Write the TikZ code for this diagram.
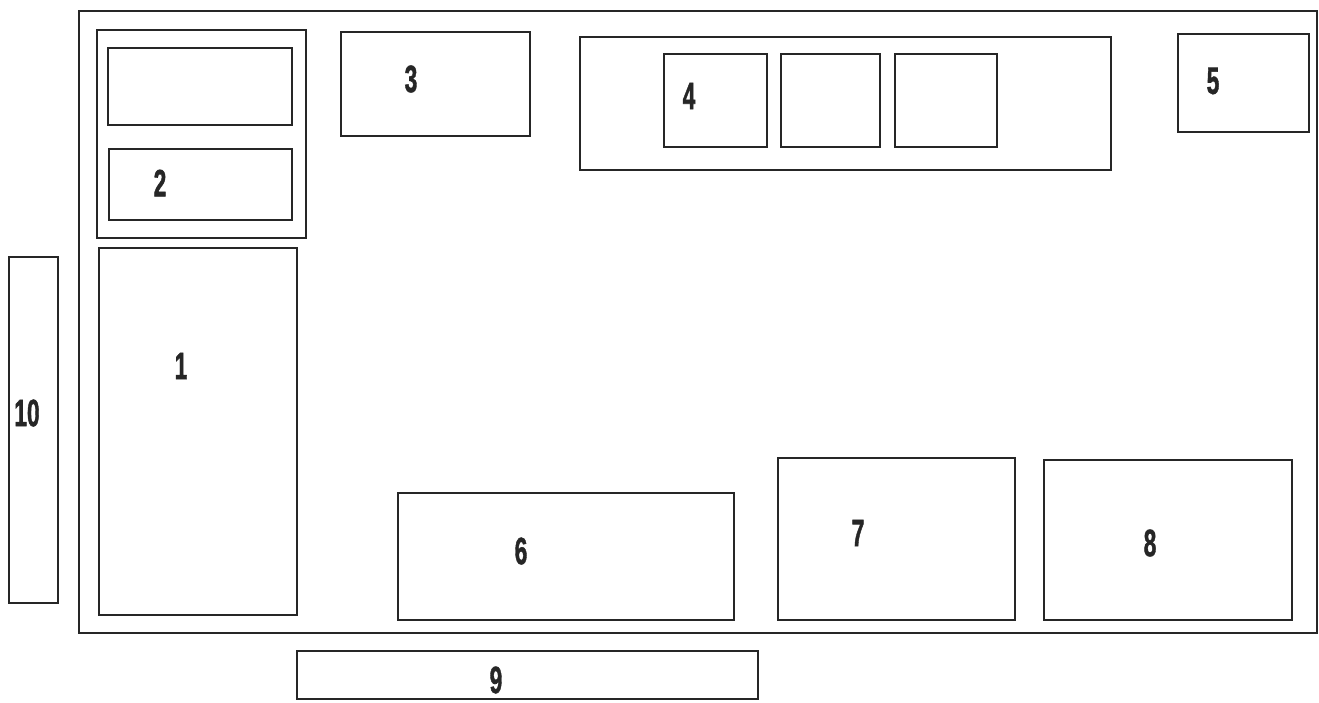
\documentclass[tikz,border=0pt]{standalone}
\usepackage{fontspec}
\newfontfamily\lblfont[FakeBold=1.6]{Liberation Sans Bold}
\begin{document}
\begin{tikzpicture}[x=1pt,y=-1pt,
  part/.style={draw=black!85, line width=2.8pt},
  lbl/.style={font=\lblfont\fontsize{38}{38}\selectfont, xscale=0.6, text=black!85, inner sep=0pt}]
\useasboundingbox (0,0) rectangle (1319,702);
\clip (0,0) rectangle (1319,702);
\fill[white] (0,0) rectangle (1319,702);
% outer frame
\draw[part] (79,11) rectangle (1317,633);
% group 2
\draw[part] (97,30) rectangle (306,238);
\draw[part] (108,48) rectangle (292,125);
\draw[part] (109,149) rectangle (292,220);
\node[lbl] (l2) at (160,183) {2};
% box 1
\draw[part] (99,248) rectangle (297,615);
\node[lbl] (l1) at (181,366) {1};
% box 10
\draw[part] (9,257) rectangle (58,603);
\node[lbl] (l10) at (27,413) {10};
% box 3
\draw[part] (341,32) rectangle (530,136);
\node[lbl] (l3) at (411,79) {3};
% box 4
\draw[part] (580,37) rectangle (1111,170);
\draw[part] (664,54) rectangle (767,147);
\draw[part] (781,54) rectangle (880,147);
\draw[part] (895,54) rectangle (997,147);
\node[lbl] (l4) at (689,96) {4};
% box 5
\draw[part] (1178,34) rectangle (1309,132);
\node[lbl] (l5) at (1213,81) {5};
% box 6
\draw[part] (398,493) rectangle (734,620);
\node[lbl] (l6) at (521,551) {6};
% box 7
\draw[part] (778,458) rectangle (1015,620);
\node[lbl] (l7) at (858,533) {7};
% box 8
\draw[part] (1044,460) rectangle (1292,620);
\node[lbl] (l8) at (1150,543) {8};
% box 9
\draw[part] (297,651) rectangle (758,699);
\node[lbl] (l9) at (496,680) {9};
\end{tikzpicture}
\end{document}
